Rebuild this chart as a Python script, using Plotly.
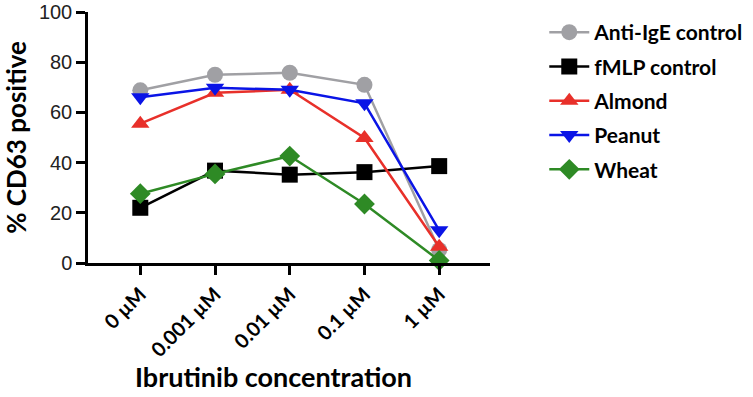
import plotly.graph_objects as go

categories = ["0 µM", "0.001 µM", "0.01 µM", "0.1 µM", "1 µM"]
anti_ige = [68.8, 75.0, 75.8, 71.0, 5.2]
fmlp = [22.0, 36.8, 35.2, 36.2, 38.6]
almond = [55.5, 67.8, 69.0, 49.8, 6.5]
peanut = [66.0, 69.8, 69.0, 63.6, 13.0]
wheat = [27.6, 35.5, 42.6, 23.5, 1.0]

series = [
    ("Anti-IgE control", anti_ige, "#a0a0a4", "circle"),
    ("fMLP control", fmlp, "#000000", "square"),
    ("Almond", almond, "#e8302a", "triangle-up"),
    ("Peanut", peanut, "#0a14e6", "triangle-down"),
    ("Wheat", wheat, "#2e8a25", "diamond"),
]

fig = go.Figure()
for name, vals, color, sym in series:
    fig.add_trace(go.Scatter(
        x=categories, y=vals, name=name, legendgroup=name, mode="lines+markers",
        line=dict(color=color, width=2.5),
        marker=dict(symbol=sym, size=16, color=color),
        cliponaxis=False,
    ))

PLOT_H = 397 - 12 - 134

fig.update_layout(
    width=753, height=397,
    margin=dict(l=88, r=263, t=12, b=134, autoexpand=False),
    paper_bgcolor="white", plot_bgcolor="white",
    showlegend=True,
    legend=dict(
        x=1.135, y=1.0, xanchor="left", yanchor="top",
        font=dict(family="Lato", size=21, color="black", weight="bold"),
        tracegroupgap=4, itemwidth=40,
    ),
    xaxis=dict(
        type="category", range=[-0.7, 4.68], automargin=False,
        showline=True, linecolor="black", linewidth=2.5,
        ticks="outside", ticklen=9, tickwidth=2.5, tickcolor="black",
        tickangle=-45, showgrid=False, zeroline=False,
        tickfont=dict(family="Lato", size=20, color="black", weight="bold"),
    ),
    yaxis=dict(
        range=[0, 100], tickvals=[0, 20, 40, 60, 80, 100], automargin=False,
        ticklabeloverflow="allow",
        showline=True, linecolor="black", linewidth=2.5,
        ticks="outside", ticklen=9, tickwidth=2.5, tickcolor="black",
        showgrid=False, zeroline=False,
        tickfont=dict(family="Liberation Sans", size=20, color="#222"),
        title=dict(text="% CD63 positive", standoff=15,
                   font=dict(family="Lato", size=26, color="black", weight="bold")),
    ),
    annotations=[dict(
        text="Ibrutinib concentration", xref="paper", yref="paper",
        x=(273 - 88) / 402, y=-(376 - 263) / PLOT_H, xanchor="center", yanchor="middle",
        showarrow=False,
        font=dict(family="Lato", size=27, color="black", weight="bold"),
    )],
)

fig.write_html("out.html", config={"displayModeBar": False},
               post_script="document.body.style.margin='0px';")
